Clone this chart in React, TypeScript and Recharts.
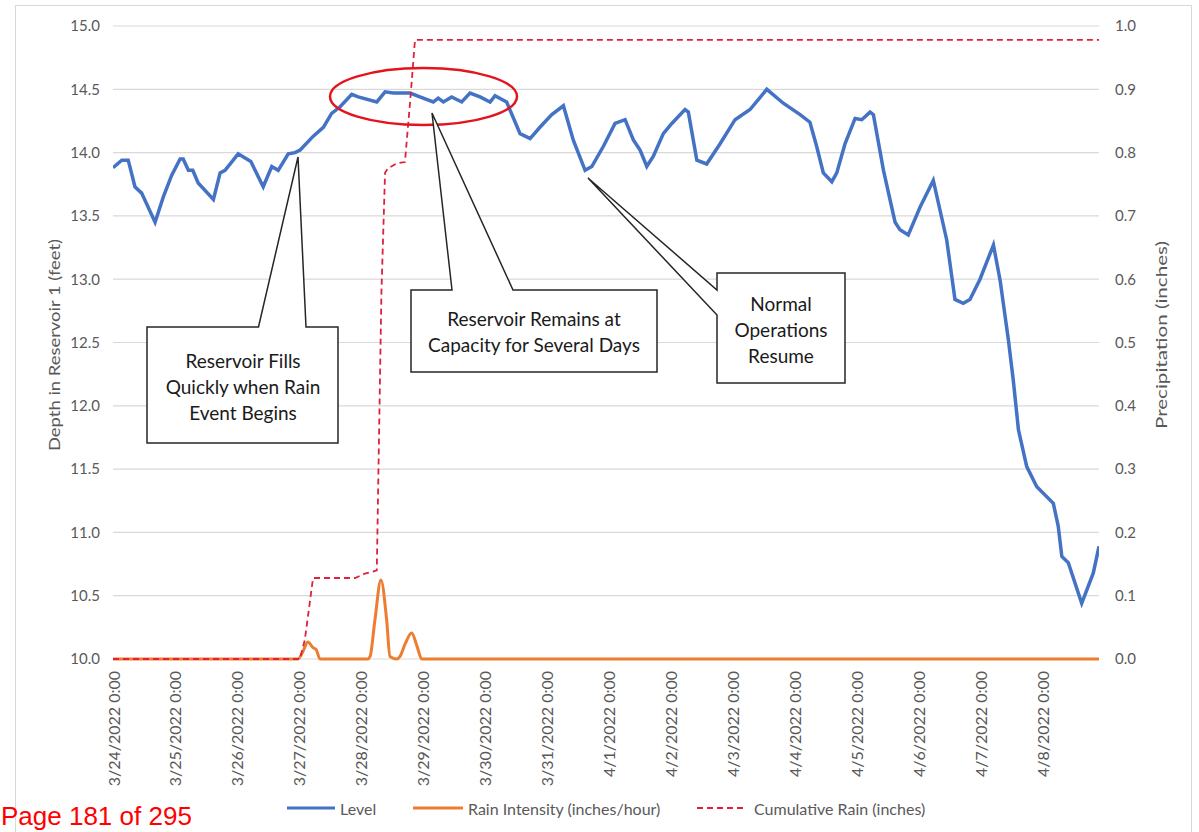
import React from "react";
import {CartesianGrid, Line, LineChart, XAxis, YAxis} from "recharts";

// x values are hours since 3/24/2022 0:00
const dayLabels = [
  '3/24/2022 0:00', '3/25/2022 0:00', '3/26/2022 0:00', '3/27/2022 0:00',
  '3/28/2022 0:00', '3/29/2022 0:00', '3/30/2022 0:00', '3/31/2022 0:00',
  '4/1/2022 0:00', '4/2/2022 0:00', '4/3/2022 0:00', '4/4/2022 0:00',
  '4/5/2022 0:00', '4/6/2022 0:00', '4/7/2022 0:00', '4/8/2022 0:00',
]
const dayTicks = dayLabels.map((_, i) => i * 24)

const depthTicks = [10.0, 10.5, 11.0, 11.5, 12.0, 12.5, 13.0, 13.5, 14.0, 14.5, 15.0]
const precipTicks = [0.0, 0.1, 0.2, 0.3, 0.4, 0.5, 0.6, 0.7, 0.8, 0.9, 1.0]

const levelHours = [
  0, 3.4, 5.9, 8.5, 11.1, 16.3, 19.5, 22.7, 26.0, 27.2,
  29.2, 30.9, 33.0, 38.9, 41.5, 43.4, 48.5, 51.8, 53.4, 58.2,
  61.5, 64.0, 67.9, 70.5, 72.5, 77.6, 81.5, 84.7, 87.9, 92.5,
  95.0, 102.2, 105.4, 108.6, 115.1, 118.9, 124.1, 126.0, 128.0, 131.2,
  135.1, 138.3, 142.2, 146.1, 148.0, 152.5, 157.7, 161.6, 165.4, 170.0,
  174.5, 178.3, 182.9, 185.5, 190.0, 194.5, 198.4, 201.6, 204.2, 206.8,
  209.3, 213.2, 216.5, 221.6, 222.9, 226.2, 230.0, 235.2, 241.0, 246.8,
  253.3, 259.7, 266.2, 270.0, 272.6, 275.2, 278.5, 280.4, 283.6, 287.5,
  290.1, 293.3, 294.6, 298.5, 303.0, 304.9, 308.1, 312.7, 317.8, 323.0,
  326.2, 329.4, 332.0, 335.9, 341.1, 343.7, 346.9, 348.8, 350.8, 354.0,
  357.9, 364.3, 366.2, 367.6, 370.1, 375.3, 379.8, 382.0,
]
const levelFeet = [
  13.88, 13.94, 13.94, 13.73, 13.68, 13.45, 13.65, 13.82, 13.95, 13.95,
  13.86, 13.86, 13.76, 13.63, 13.84, 13.86, 13.99, 13.95, 13.93, 13.73,
  13.89, 13.86, 13.99, 14.0, 14.02, 14.13, 14.2, 14.31, 14.36, 14.46,
  14.44, 14.40, 14.48, 14.47, 14.47, 14.44, 14.40, 14.43, 14.40, 14.44,
  14.40, 14.47, 14.44, 14.40, 14.45, 14.40, 14.15, 14.11, 14.20, 14.30,
  14.37, 14.10, 13.86, 13.89, 14.05, 14.23, 14.26, 14.10, 14.02, 13.89,
  13.97, 14.15, 14.23, 14.34, 14.32, 13.94, 13.91, 14.07, 14.26, 14.34,
  14.50, 14.39, 14.30, 14.24, 14.05, 13.84, 13.77, 13.84, 14.07, 14.27,
  14.26, 14.32, 14.30, 13.86, 13.45, 13.39, 13.35, 13.57, 13.78, 13.31,
  12.84, 12.81, 12.84, 13.0, 13.27, 12.99, 12.52, 12.20, 11.81, 11.52,
  11.36, 11.23, 11.05, 10.81, 10.76, 10.44, 10.68, 10.89,
]

const rainHours = [0, 71.7, 73.6, 75.5, 77.5, 78.7, 80.2, 98.7, 99.6, 101.5, 103.8, 106.0, 107.3, 110.0, 111.2, 113.3, 115.7, 117.8, 119.6, 382]
const rainRate = [0, 0, 0.012, 0.027, 0.018, 0.015, 0, 0, 0.004, 0.0625, 0.125, 0.0625, 0.004, 0, 0.004, 0.025, 0.041, 0.02, 0, 0]

const cumHours = [0, 72.4, 74.3, 76.2, 77.5, 93.8, 97.6, 100.7, 102.2, 104.0, 105.4, 106.5, 110.0, 113.1, 115.1, 117.0, 382]
const cumRain = [0, 0, 0.03, 0.088, 0.128, 0.128, 0.135, 0.138, 0.14, 0.58, 0.768, 0.775, 0.783, 0.785, 0.88, 0.978, 0.978]

const levelData = levelHours.map((h, i) => ({h, v: levelFeet[i]}))
const rainData = rainHours.map((h, i) => ({h, v: rainRate[i]}))
const cumData = cumHours.map((h, i) => ({h, v: cumRain[i]}))

const GRAY = '#595959'

const DateTick = (props: any) => {
  const {x, y, payload} = props
  const label = dayLabels[Math.round(payload.value / 24)]
  return (
    <text x={x} y={y} transform={`rotate(-90 ${x} ${y})`} textAnchor="end"
          dominantBaseline="central" fill={GRAY} fontSize={16}>{label}</text>
  )
}

const Callout = ({d, lines, cx, y0}: {d: string, lines: string[], cx: number, y0: number}) => (
  <g>
    <path d={d} fill="#fff" stroke="#262626" strokeWidth={1.5}/>
    {lines.map((t, i) => (
      <text key={i} x={cx} y={y0 + i * 26} textAnchor="middle" dominantBaseline="central"
            fontSize={19} fill="#1a1a1a">{t}</text>
    ))}
  </g>
)

export default function App() {
  return (
    <div style={{position: 'absolute', left: 0, top: 0, width: 1199, height: 832, overflow: 'hidden',
      background: '#fff', fontFamily: 'Lato, "Open Sans", sans-serif'}}>
      <LineChart width={1199} height={832} margin={{top: 26, right: 40, left: 53, bottom: 53}}>
        <CartesianGrid yAxisId="left" vertical={false} stroke="#d9d9d9" strokeWidth={1.2}/>
        <XAxis dataKey="h" type="number" domain={[0, 382]} ticks={dayTicks} interval={0}
               allowDataOverflow tick={(p: any) => <DateTick {...p}/>} tickSize={0} tickMargin={12}
               axisLine={false} tickLine={false} height={120}/>
        <YAxis yAxisId="left" domain={[10, 15]} ticks={depthTicks} interval={0} width={60}
               tickFormatter={(v: number) => v.toFixed(1)} tick={{fill: GRAY, fontSize: 15}}
               tickSize={0} tickMargin={13} axisLine={false} tickLine={false}/>
        <YAxis yAxisId="right" orientation="right" domain={[0, 1]} ticks={precipTicks} interval={0} width={60}
               tickFormatter={(v: number) => v.toFixed(1)} tick={{fill: GRAY, fontSize: 15}}
               tickSize={0} tickMargin={16} axisLine={false} tickLine={false}/>
        <Line yAxisId="left" data={levelData} dataKey="v" type="linear" stroke="#4472C4" strokeWidth={3.5}
              dot={false} activeDot={false} isAnimationActive={false}/>
        <Line yAxisId="right" data={rainData} dataKey="v" type="monotone" stroke="#ED7D31" strokeWidth={3}
              dot={false} activeDot={false} isAnimationActive={false}/>
        <Line yAxisId="right" data={cumData} dataKey="v" type="linear" stroke="#E0203C" strokeWidth={1.8}
              strokeDasharray="6 4" dot={false} activeDot={false} isAnimationActive={false}/>
      </LineChart>

      <svg width={1199} height={832} style={{position: 'absolute', left: 0, top: 0, pointerEvents: 'none'}}>
        <rect x={15.5} y={5.5} width={1176} height={900} fill="none" stroke="#d9d9d9"/>

        <text x={53} y={345} transform="rotate(-90 53 345)" textAnchor="middle" dominantBaseline="central"
              fontSize={16} fill={GRAY} textLength={212} lengthAdjust="spacingAndGlyphs">Depth in Reservoir 1 (feet)</text>
        <text x={1160} y={335} transform="rotate(-90 1160 335)" textAnchor="middle" dominantBaseline="central"
              fontSize={16} fill={GRAY} textLength={188} lengthAdjust="spacingAndGlyphs">Precipitation (inches)</text>

        <ellipse cx={423.5} cy={96.5} rx={93.5} ry={28.5} fill="none" stroke="#E3141E" strokeWidth={2.5}/>

        <Callout d="M147,327 L258.5,327 L298,157 L306,327 L338,327 L338,443 L147,443 Z"
                 lines={['Reservoir Fills', 'Quickly when Rain', 'Event Begins']} cx={243} y0={360}/>
        <Callout d="M411,290 L452,290 L432,113 L513,290 L657,290 L657,372 L411,372 Z"
                 lines={['Reservoir Remains at', 'Capacity for Several Days']} cx={534} y0={318}/>
        <Callout d="M717,273 L845,273 L845,383 L717,383 L717,315 L588,178 L717,290 Z"
                 lines={['Normal', 'Operations', 'Resume']} cx={781} y0={303}/>

        <line x1={287} x2={335} y1={808} y2={808} stroke="#4472C4" strokeWidth={3}/>
        <text x={340} y={808} dominantBaseline="central" fontSize={16} fill={GRAY}>Level</text>
        <line x1={413} x2={463} y1={808} y2={808} stroke="#ED7D31" strokeWidth={3}/>
        <text x={468} y={808} dominantBaseline="central" fontSize={16} fill={GRAY}>Rain Intensity (inches/hour)</text>
        <line x1={697} x2={745} y1={808} y2={808} stroke="#E0203C" strokeWidth={1.8} strokeDasharray="6 4"/>
        <text x={754} y={808} dominantBaseline="central" fontSize={16} fill={GRAY}>Cumulative Rain (inches)</text>

        <text x={1} y={825} fontSize={26} fill="#ff0000"
              fontFamily='"Liberation Sans", Arial, sans-serif'>Page 181 of 295</text>
      </svg>
    </div>
  )
}
